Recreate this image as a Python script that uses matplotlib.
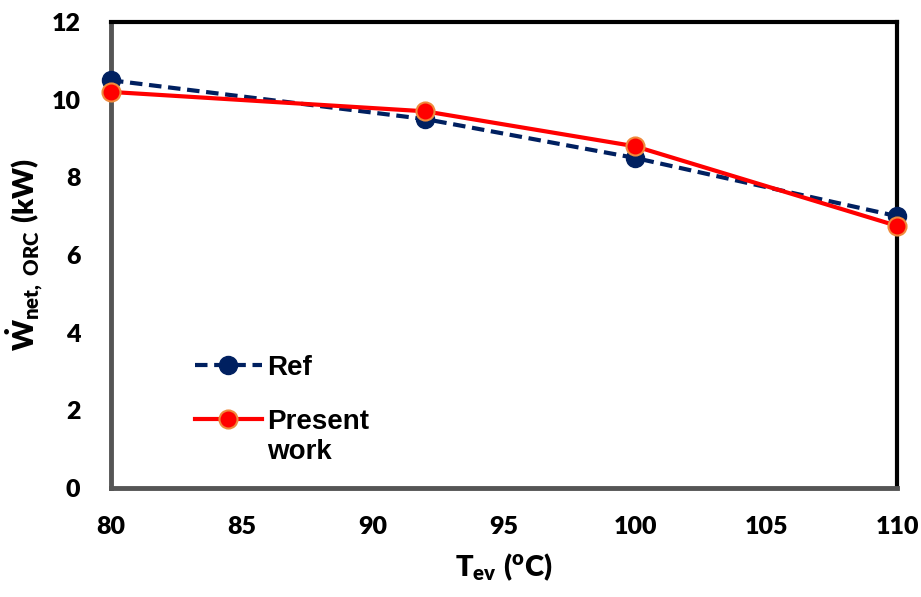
import matplotlib
matplotlib.use("Agg")
import matplotlib.pyplot as plt

# data
t_ev = [80, 92, 100, 110]
w_ref = [10.5, 9.5, 8.5, 7.0]
w_present = [10.2, 9.7, 8.8, 6.75]

x_ticks = [80, 85, 90, 95, 100, 105, 110]
y_ticks = [0, 2, 4, 6, 8, 10, 12]

plt.rcParams['font.family'] = ['Lato', 'DejaVu Sans']
plt.rcParams['mathtext.fontset'] = 'custom'
plt.rcParams['mathtext.rm'] = 'Lato:heavy'
plt.rcParams['mathtext.bf'] = 'Lato:heavy'
plt.rcParams['mathtext.it'] = 'Lato:heavy'

fig = plt.figure(figsize=(9.21, 5.97), dpi=100)
ax = fig.add_axes([0.1205, 0.1826, 0.8535, 0.7805])

ref_line, = ax.plot(t_ev, w_ref, '--', color='#002060', lw=3, dashes=(3, 1.6),
                    marker='o', ms=13, mfc='#002060', mec='#002060',
                    clip_on=False, zorder=3)
pres_line, = ax.plot(t_ev, w_present, '-', color='#FF0000', lw=3,
                     marker='o', ms=13, mfc='#FF0000', mec='#F08A3C', mew=1.5,
                     clip_on=False, zorder=4)

ax.set_xlim(80, 110)
ax.set_ylim(0, 12)
ax.set_xticks(x_ticks)
ax.set_yticks(y_ticks)
ax.set_xticklabels([str(v) for v in x_ticks], fontweight='heavy', fontsize=18)
ax.set_yticklabels([str(v) for v in y_ticks], fontweight='heavy', fontsize=18)
ax.tick_params(length=0)
ax.tick_params(axis='y', pad=22)
ax.tick_params(axis='x', pad=20)

# spines: double grey line on left/bottom, black on top/right
for s in ['top', 'right']:
    ax.spines[s].set_color('black')
    ax.spines[s].set_linewidth(3)
for s in ['left', 'bottom']:
    ax.spines[s].set_color('#555555')
    ax.spines[s].set_linewidth(3.5)
ax.plot([0, 0], [0, 1], transform=ax.transAxes, color='#e8e8e8', lw=1,
        clip_on=False, zorder=2.5)
ax.plot([0, 1], [0, 0], transform=ax.transAxes, color='#e8e8e8', lw=1,
        clip_on=False, zorder=2.5)

ax.set_xlabel(r'$\mathbf{T_{ev}}$ $\mathbf{(^{o}C)}$', fontsize=21, labelpad=10)
ax.set_ylabel(r'$\dot{\mathbf{W}}_{\mathbf{net,\ ORC}}\ \mathbf{(kW)}$',
              fontsize=21, labelpad=4)

leg_prop = {'family': 'Liberation Sans', 'weight': 'bold', 'size': 20}
leg1 = ax.legend([ref_line], ['Ref'], loc='center left',
                 bbox_to_anchor=(0.075, 0.2575), frameon=False,
                 handlelength=2.4, handletextpad=0.2, prop=leg_prop)
ax.add_artist(leg1)
blank, = ax.plot([], [], alpha=0)
leg2 = ax.legend([pres_line, blank], ['Present', 'work'], loc='center left',
                 bbox_to_anchor=(0.075, 0.11), frameon=False,
                 handlelength=2.4, handletextpad=0.2, labelspacing=0.15,
                 prop=leg_prop)

fig.savefig('out.png', dpi=100)
